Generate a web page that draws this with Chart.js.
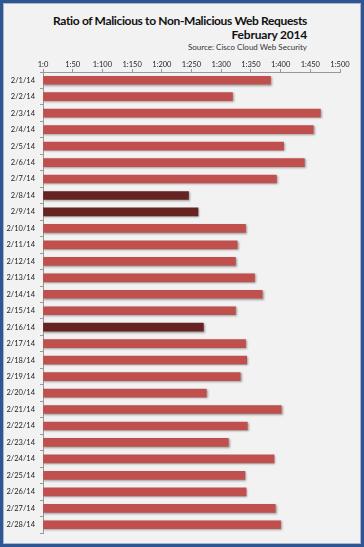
<!DOCTYPE html>
<html>
<head>
<meta charset="utf-8">
<script src="https://cdn.jsdelivr.net/npm/chart.js@4"></script>
<style>
  html, body { margin: 0; padding: 0; background: #fff; }
  #frame {
    position: relative;
    width: 358px; height: 541px;
    border: 3px solid #2f5693;
    box-shadow: inset 0 0 0 1px #a7b7d0;
    background: #f2f2f2;
    font-family: Lato, "Open Sans", sans-serif;
  }
  #head {
    position: absolute; top: 11px; right: 54px;
    text-align: right; color: #111;
  }
  #head .t1 { font-weight: bold; font-size: 12px; line-height: 14px; letter-spacing: -0.35px; }
  #head .t2 { font-weight: bold; font-size: 12px; line-height: 14px; letter-spacing: -0.2px; }
  #head .t3 { font-size: 8px; line-height: 10px; color: #333; }
  canvas { position: absolute; left: 0; top: 0; }
</style>
</head>
<body>
<div id="frame">
  <div id="head">
    <div class="t1">Ratio of Malicious to Non-Malicious Web Requests</div>
    <div class="t2">February 2014</div>
    <div class="t3">Source: Cisco Cloud Web Security</div>
  </div>
  <canvas id="grafico" width="358" height="541"></canvas>
</div>
<script>
// ==========================
// DADOS
// ==========================
const dias = ["2/1/14", "2/2/14", "2/3/14", "2/4/14", "2/5/14", "2/6/14", "2/7/14",
  "2/8/14", "2/9/14", "2/10/14", "2/11/14", "2/12/14", "2/13/14", "2/14/14",
  "2/15/14", "2/16/14", "2/17/14", "2/18/14", "2/19/14", "2/20/14", "2/21/14",
  "2/22/14", "2/23/14", "2/24/14", "2/25/14", "2/26/14", "2/27/14", "2/28/14"];
// 1:N (N requisições não maliciosas por uma maliciosa)
const razao = [383, 319, 467, 455, 405, 440, 393,
  245, 261, 341, 327, 324, 356, 369,
  324, 270, 341, 343, 332, 275, 401,
  344, 312, 389, 340, 342, 391, 400];
const destaque = ["2/8/14", "2/9/14", "2/16/14"];
const ticksX = [0, 50, 100, 150, 200, 250, 300, 350, 400, 450, 500];

const corNormal = "#c0504d";
const corDestaque = "#652321";

// sombra leve nas barras
const sombra = {
  id: "sombra",
  beforeDatasetsDraw(chart) {
    const c = chart.ctx;
    c.save();
    c.shadowColor = "rgba(0,0,0,0.35)";
    c.shadowBlur = 2;
    c.shadowOffsetX = 1;
    c.shadowOffsetY = 1;
  },
  afterDatasetsDraw(chart) { chart.ctx.restore(); }
};

const ctx = document.getElementById("grafico");
new Chart(ctx, {
  type: "bar",
  data: {
    labels: dias,
    datasets: [{
      data: razao,
      backgroundColor: dias.map(d => destaque.includes(d) ? corDestaque : corNormal),
      barThickness: 8,
      borderWidth: 0
    }]
  },
  options: {
    indexAxis: "y",
    responsive: false,
    animation: false,
    layout: { padding: { top: 50, right: 21, bottom: 11, left: 0 } },
    plugins: { legend: { display: false }, tooltip: { enabled: false } },
    scales: {
      x: {
        position: "top",
        min: 0, max: 500,
        afterBuildTicks: s => { s.ticks = ticksX.map(v => ({ value: v })); },
        afterFit: s => { s.height = 19; },
        border: { color: "#999", width: 1 },
        grid: { drawOnChartArea: false, tickLength: 3, color: "#999" },
        ticks: {
          padding: 0,
          color: "#222",
          font: { family: "Lato", size: 7.5 },
          callback: v => "1:" + v
        }
      },
      y: {
        afterFit: s => { s.width = 40; },
        border: { color: "#999", width: 1 },
        grid: { drawOnChartArea: false, tickLength: 3, color: "#999" },
        ticks: {
          padding: 5,
          color: "#222",
          font: { family: "Lato", size: 7.5 }
        }
      }
    }
  },
  plugins: [sombra]
});
</script>
</body>
</html>
